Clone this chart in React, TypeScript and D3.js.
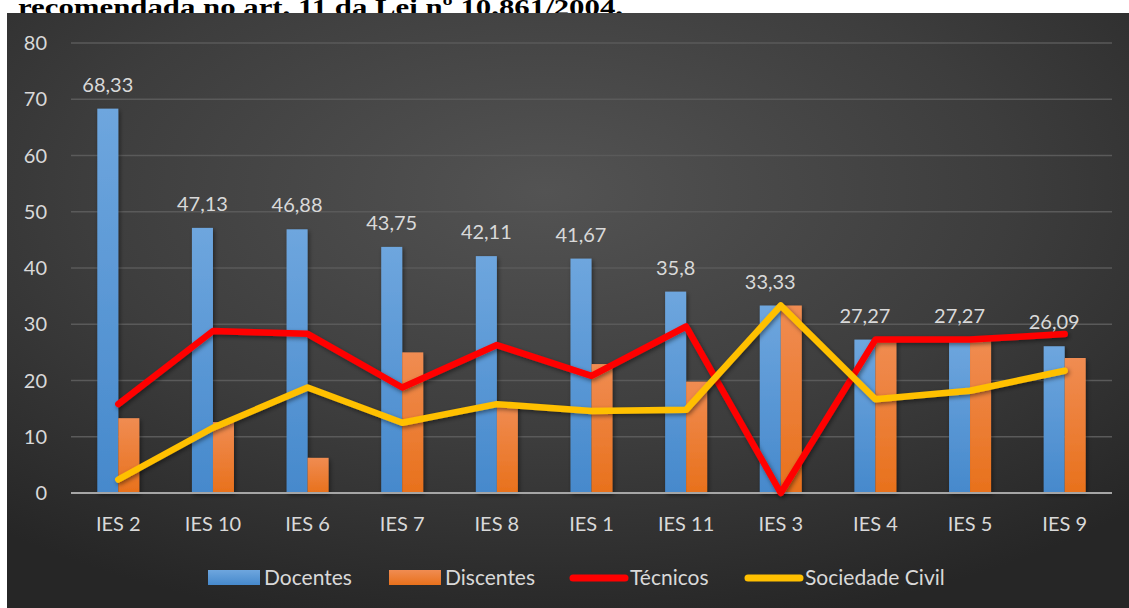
import React, { useEffect } from "react";
import * as d3 from "d3";

const categories = ["IES 2", "IES 10", "IES 6", "IES 7", "IES 8", "IES 1", "IES 11", "IES 3", "IES 4", "IES 5", "IES 9"];
const docentes = [68.33, 47.13, 46.88, 43.75, 42.11, 41.67, 35.8, 33.33, 27.27, 27.27, 26.09];
const discentes = [13.3, 12.6, 6.25, 25.0, 15.79, 22.92, 19.8, 33.33, 27.27, 27.27, 24.0];
const tecnicos = [15.8, 28.8, 28.3, 18.75, 26.3, 20.83, 29.6, 0, 27.27, 27.27, 28.26];
const sociedade = [2.4, 11.6, 18.75, 12.5, 15.8, 14.58, 14.8, 33.33, 16.67, 18.18, 21.74];
const docLabels = ["68,33", "47,13", "46,88", "43,75", "42,11", "41,67", "35,8", "33,33", "27,27", "27,27", "26,09"];
const yTicks = [0, 10, 20, 30, 40, 50, 60, 70, 80];
const legendNames = ["Docentes", "Discentes", "Técnicos", "Sociedade Civil"];
const captionText = "recomendada no art. 11 da Lei nº 10.861/2004.";

const W = 1129, H = 608;
const FONT = "Lato, 'Open Sans', sans-serif";

export default function App() {
  useEffect(() => {
    document.body.style.margin = "0";
  }, []);

  const x = d3.scaleBand<string>().domain(categories).range([71, 1112]);
  const y = d3.scaleLinear().domain([0, 80]).range([493, 43]);
  const step = x.step();
  const bw = step * 0.222;
  const cx = (c: string) => (x(c) as number) + step / 2;

  const line = d3.line<number>().x((_, i) => cx(categories[i])).y((v) => y(v));

  const legendX = [208, 389, 570, 745];
  const legendTextX = [264, 445, 630, 805];

  return (
    <svg width={W} height={H} style={{ display: "block" }} fontFamily={FONT}>
      <defs>
        <radialGradient id="bg" cx="0.48" cy="0.3" r="0.75" gradientUnits="objectBoundingBox">
          <stop offset="0" stopColor="#535353" />
          <stop offset="0.55" stopColor="#3d3d3d" />
          <stop offset="1" stopColor="#262626" />
        </radialGradient>
        <linearGradient id="blue" x1="0" y1="0" x2="0" y2="1">
          <stop offset="0" stopColor="#6ea6de" />
          <stop offset="1" stopColor="#4689cc" />
        </linearGradient>
        <linearGradient id="orange" x1="0" y1="0" x2="0" y2="1">
          <stop offset="0" stopColor="#f08c52" />
          <stop offset="1" stopColor="#e8711c" />
        </linearGradient>
        <filter id="sh" x="-20%" y="-20%" width="140%" height="140%">
          <feDropShadow dx="1.5" dy="2" stdDeviation="2" floodColor="#000" floodOpacity="0.45" />
        </filter>
      </defs>
      <rect x={0} y={0} width={W} height={H} fill="#fff" />
      <text x={18} y={15} fontFamily="'Liberation Serif', 'Times New Roman', serif" fontWeight="bold" fontSize={24} fill="#000" textLength={605} lengthAdjust="spacingAndGlyphs">
        {captionText}
      </text>
      <rect x={7} y={13} width={W - 7} height={H - 13} fill="url(#bg)" />

      {yTicks.map((t) => (
        <g key={t}>
          {t > 0 && <line x1={71} x2={1112} y1={y(t)} y2={y(t)} stroke="#5a5a5a" strokeWidth={1.5} />}
          <text x={47} y={y(t)} dy="0.35em" textAnchor="end" fontSize={20} fill="#d9d9d9">{t}</text>
        </g>
      ))}

      {categories.map((c, i) => (
        <g key={c} filter="url(#sh)">
          <rect x={cx(c) - bw} y={y(docentes[i])} width={bw} height={y(0) - y(docentes[i])} fill="url(#blue)" />
          <rect x={cx(c)} y={y(discentes[i])} width={bw} height={y(0) - y(discentes[i])} fill="url(#orange)" />
        </g>
      ))}
      <line x1={71} x2={1112} y1={y(0)} y2={y(0)} stroke="#a6a6a6" strokeWidth={2} />

      <path d={line(tecnicos) || ""} fill="none" stroke="#ff0000" strokeWidth={6.5} strokeLinecap="round" strokeLinejoin="round" filter="url(#sh)" />
      <path d={line(sociedade) || ""} fill="none" stroke="#ffc000" strokeWidth={6.5} strokeLinecap="round" strokeLinejoin="round" filter="url(#sh)" />

      {categories.map((c, i) => (
        <text key={"l" + c} x={cx(c) - bw / 2} y={y(docentes[i]) - 17} textAnchor="middle" fontSize={20} fill="#d9d9d9">
          {docLabels[i]}
        </text>
      ))}

      {categories.map((c) => (
        <text key={"c" + c} x={cx(c)} y={524} dy="0.35em" textAnchor="middle" fontSize={20} fill="#d9d9d9">{c}</text>
      ))}

      {legendNames.map((n, i) => (
        <g key={n}>
          {i < 2 ? (
            <rect x={legendX[i]} y={570} width={52} height={15} fill={i === 0 ? "url(#blue)" : "url(#orange)"} />
          ) : (
            <line x1={legendX[i] + 3} x2={legendX[i] + 55} y1={578} y2={578} stroke={i === 2 ? "#ff0000" : "#ffc000"} strokeWidth={7} strokeLinecap="round" />
          )}
          <text x={legendTextX[i]} y={578} dy="0.35em" fontSize={21} fill="#d9d9d9">{n}</text>
        </g>
      ))}
    </svg>
  );
}
